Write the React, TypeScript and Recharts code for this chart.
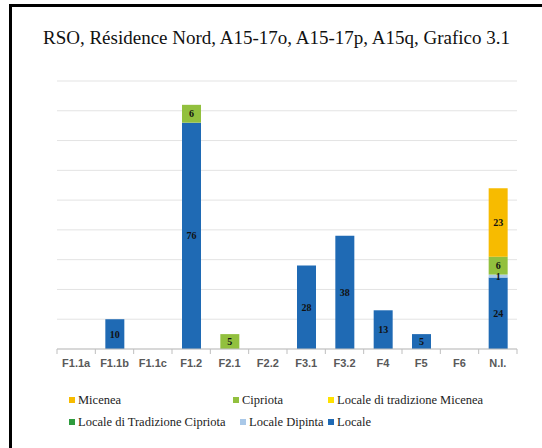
import React from 'react';
import { BarChart, Bar, XAxis, YAxis, CartesianGrid, LabelList } from 'recharts';

const categories = ['F1.1a', 'F1.1b', 'F1.1c', 'F1.2', 'F2.1', 'F2.2', 'F3.1', 'F3.2', 'F4', 'F5', 'F6', 'N.I.'];
const locale = [0, 10, 0, 76, 0, 0, 28, 38, 13, 5, 0, 24];
const localeDipinta = [0, 0, 0, 0, 0, 0, 0, 0, 0, 0, 0, 1];
const localeTradCipriota = [0, 0, 0, 0, 0, 0, 0, 0, 0, 0, 0, 0];
const localeTradMicenea = [0, 0, 0, 0, 0, 0, 0, 0, 0, 0, 0, 0];
const cipriota = [0, 0, 0, 6, 5, 0, 0, 0, 0, 0, 0, 6];
const micenea = [0, 0, 0, 0, 0, 0, 0, 0, 0, 0, 0, 23];
const yTicks = [0, 10, 20, 30, 40, 50, 60, 70, 80, 90];

const data = categories.map((c, i) => ({
    name: c,
    locale: locale[i],
    localeDipinta: localeDipinta[i],
    localeTradCipriota: localeTradCipriota[i],
    localeTradMicenea: localeTradMicenea[i],
    cipriota: cipriota[i],
    micenea: micenea[i],
}));

// bottom to top
const series = [
    { key: 'locale', name: 'Locale', color: '#1F6AB4' },
    { key: 'localeDipinta', name: 'Locale Dipinta', color: '#A9C8E8' },
    { key: 'localeTradCipriota', name: 'Locale di Tradizione Cipriota', color: '#2E9B3E' },
    { key: 'localeTradMicenea', name: 'Locale di tradizione Micenea', color: '#FFE100' },
    { key: 'cipriota', name: 'Cipriota', color: '#92C03E' },
    { key: 'micenea', name: 'Micenea', color: '#F7BB00' },
];

// legend layout (Excel-like), order as in the picture
const legendItems = [
    { key: 'micenea', x: 69, row: 0 },
    { key: 'cipriota', x: 233, row: 0 },
    { key: 'localeTradMicenea', x: 328, row: 0 },
    { key: 'localeTradCipriota', x: 69, row: 1 },
    { key: 'localeDipinta', x: 240, row: 1 },
    { key: 'locale', x: 328, row: 1 },
];

const SERIF = "'Liberation Serif', 'Times New Roman', serif";
const SANS = "'Liberation Sans', Arial, sans-serif";

const plotLeft = 57;
const plotRight = 517;
const step = (plotRight - plotLeft) / categories.length;

const CatTick = (props: any) => {
    const { x, y, payload, index } = props;
    return (
        <g>
            <line x1={x - step / 2} x2={x - step / 2} y1={y - 8} y2={y - 3} stroke="#bfbfbf" />
            {index === categories.length - 1 && (
                <line x1={x + step / 2} x2={x + step / 2} y1={y - 8} y2={y - 3} stroke="#bfbfbf" />
            )}
            <text x={x} y={y + 10} textAnchor="middle" fontFamily={SANS} fontWeight="bold" fontSize={11} fill="#595959">
                {payload.value}
            </text>
        </g>
    );
};

const App: React.FC = () => {
    return (
        <div style={{ position: 'absolute', left: 0, top: 0, width: 542, height: 448, background: '#fff' }}>
            <div style={{ position: 'absolute', left: 9, top: 4, right: 0, bottom: 0, borderLeft: '3px solid #000', borderTop: '3px solid #000' }} />
            <div style={{ position: 'absolute', left: 0, width: 553, top: 27, textAlign: 'center', fontFamily: SERIF, fontSize: 19, color: '#111', whiteSpace: 'nowrap' }}>
                RSO, Résidence Nord, A15-17o, A15-17p, A15q, Grafico 3.1
            </div>
            <div style={{ position: 'absolute', left: 0, top: 0 }}>
                <BarChart width={542} height={448} data={data} margin={{ top: 81, right: 542 - plotRight, left: plotLeft, bottom: 69 }} barSize={19}>
                    <CartesianGrid vertical={false} stroke="#e3e3e3" />
                    <YAxis hide domain={[0, 90]} ticks={yTicks} />
                    <XAxis dataKey="name" height={30} tickLine={false} axisLine={{ stroke: '#bfbfbf' }} interval={0} tick={<CatTick />} />
                    {series.map((s) => (
                        <Bar key={s.key} dataKey={s.key} name={s.name} stackId="a" fill={s.color} isAnimationActive={false}>
                            <LabelList
                                dataKey={s.key}
                                position="center"
                                formatter={(v: any) => (v ? v : '')}
                                style={{ fontFamily: SERIF, fontWeight: 'bold', fontSize: 10, fill: '#111' }}
                            />
                        </Bar>
                    ))}
                </BarChart>
            </div>
            {legendItems.map((it) => {
                const s = series.find((q) => q.key === it.key)!;
                return (
                    <div key={it.key} style={{ position: 'absolute', left: it.x, top: 393 + it.row * 22, display: 'flex', alignItems: 'center', fontFamily: SERIF, fontSize: 12.5, color: '#222', whiteSpace: 'nowrap', lineHeight: '14px' }}>
                        <span style={{ width: 6, height: 6, background: s.color, marginRight: 3, display: 'inline-block' }} />
                        {s.name}
                    </div>
                );
            })}
        </div>
    );
};

export default App;
